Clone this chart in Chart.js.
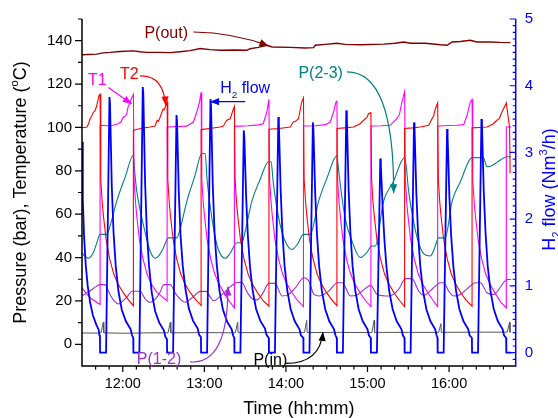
<!DOCTYPE html>
<html>
<head>
<meta charset="utf-8">
<title>Pressure, temperature and H2 flow</title>
<script src="https://cdn.jsdelivr.net/npm/chart.js@4.4.1/dist/chart.umd.min.js"></script>
<style>
  html, body { margin: 0; padding: 0; background: #fff; }
</style>
</head>
<body>
<canvas id="myChart" width="558" height="418"></canvas>
<script>
// time axis runs in minutes since midnight
const timeMin = 690;
const timeMax = 1009;
const hourTicks = [720, 780, 840, 900, 960];
const leftTicks = [0, 20, 40, 60, 80, 100, 120, 140];
const rightTicks = [0, 1, 2, 3, 4, 5];

// [minute, bar]
const pOut = [[690,133.5],[700.8,133.8],[705.5,134.4],[710.6,134.6],[718,135],[727.8,135.3],[732.7,134.9],
  [737.6,134.6],[747.4,134.6],[754.8,134.5],[762.1,134.9],[769.5,135.4],[776.9,136.4],[784.2,135.9],
  [791.6,135.6],[802.6,135.7],[811.3,135.6],[813.7,136.3],[819.6,136.9],[826,137.9],[829.9,137.1],
  [843.1,136.9],[854.2,136.6],[860.3,136.8],[861.5,137.9],[868.9,138.3],[877.5,138.8],[883.6,138.3],
  [894.7,138.1],[911.8,138.4],[920.4,138.8],[926.5,139.4],[931.5,138.8],[942.5,138.8],[953.6,138.1],
  [958.5,137.9],[962.2,139.4],[968.3,139.6],[975.6,140.2],[980.5,139.4],[990.4,139.4],[997.7,139.2],
  [1005.1,139.1]];

const pIn = [[690,5.2],[703.9,5.2],[705.7,10.2],[706,5.3],[720,5.1],[740,5.3],[753.3,5.3],[755,10.2],
  [755.3,5.3],[780,5.4],[802.8,5.3],[804.5,10.2],[804.8,5.4],[830,5.4],[853.6,5.4],[855.3,11],[855.6,5.4],
  [880,5.5],[903.2,5.4],[904.9,11],[905.2,5.5],[930,5.5],[952.3,5.5],[954,9.5],[954.3,5.5],[980,5.6],
  [1002.8,5.6],[1004.5,10.2],[1004.8,5.6],[1005.6,5.6]];

const p12 = [[690,22.4],[694.4,24],[698.8,26],[703.5,27.5],[706.7,27.5],[710.6,23],[713.6,20],[717,18.6],
  [720.9,20.5],[723.9,22.5],[726.8,24.5],[732.7,24.5],[736.4,21],[740.1,19.4],[744.5,21.3],[747.4,24],
  [750.1,27.5],[754.8,27.5],[759.2,23],[766,19.4],[771,21.5],[777.1,24.4],[781.3,24.4],[784.2,22],
  [786.7,20.1],[793.1,23],[799,26.5],[803.9,28.5],[807.6,28.5],[811.5,24],[815.2,21],[818.6,20.5],
  [822.5,23],[827.5,28.1],[831.9,28.1],[837.2,22.3],[841.7,22.8],[847,26.1],[853.2,30.7],[856.9,29.1],
  [860.6,23],[864.3,22.3],[871.6,24.6],[877.7,28.4],[881.4,28.4],[887.5,22.3],[891.7,22.6],[896.1,24.6],
  [901.1,26.9],[902.2,27.2],[907.2,23],[915.8,22.3],[922.9,25.3],[927.8,30.3],[932.7,30.3],[937.6,24.6],
  [941.3,22.6],[948.6,26.1],[953.6,28.4],[956,28.4],[959.7,24.6],[963.3,22.3],[968.3,23],[975.6,26.9],
  [979.3,28.4],[983,28.4],[987.9,23.8],[992.8,23],[1000.1,28.4],[1002.6,29.9],[1005.6,29.9]];

const p23 = [[690,42],[694.6,39.7],[698.1,42],[701,47],[703.3,50.7],[708.2,50.7],[710.6,54.5],[715.5,65.9],
  [721.7,77],[727.8,87.2],[728.7,80],[730.3,70.5],[732.7,62],[735.1,55.2],[737.6,48.5],[740.1,43],
  [743.7,39.7],[746.7,41],[749.9,44.5],[753.5,49.1],[759.7,49.1],[762.1,53],[767.1,65.9],[773.2,78],
  [778.1,88],[780.6,88],[782,76],[784.2,64],[787.2,52],[790.3,43.7],[795.3,39.7],[799,42],[803.9,46.8],
  [807.6,46.8],[810,52],[814.9,65.9],[821,76],[827.2,84.2],[829.1,84.2],[830.6,75],[832.8,65],[835.8,55],
  [839.4,47.5],[844.4,43.7],[848.3,46],[852.9,50.7],[857.9,50.7],[864,65.9],[870.4,77],[877.5,87],
  [878.8,80],[880.7,70],[883.6,58],[888.6,47.6],[894.7,40],[899.1,42],[903.3,45.3],[905.7,45.3],
  [911.8,65.9],[919,75],[927.3,86.1],[928.5,82],[930,72],[932.9,60],[936.6,49],[941.3,41.8],[946.2,40.7],
  [949.1,44],[952.3,49.1],[957.2,49.1],[962.2,65.9],[968.3,75],[976.9,86.1],[985.2,86],[987.9,81.9],
  [991.8,82.5],[997.7,85],[1002.6,86.5],[1005.6,86.5]];

// [minute, deg C]
const tempT1 = [[690,26.2],[693,23.5],[697,21],[701,19.3],[703.3,18.4],
  [703.3,101],[708,100.8],[712.8,101],[716.5,101.7],[718.5,102.5],[720.4,104.8],[722,105.3],[722.9,106.3],
  [724.1,110],[725,110.5],[726.1,113],[727.8,115.2],
  [728.3,76],[729.3,66],[730.3,59],[732.3,48],[734.8,39.5],[737.8,32.5],[740.8,28],[744.8,24.2],[748.8,22],[752.6,20],
  [752.6,100.2],[760,100.4],[767,100.6],[771.9,102.5],[774.4,107],[776.4,111.7],[777.6,116.2],
  [778.1,76],[779.1,66],[780.1,59],[782.1,48],[784.6,39.5],[787.6,32.5],[790.6,28],[794.6,23.5],[798.6,19.6],[802.1,16.8],
  [802.1,100.5],[812,100.8],[820,101.2],[823.3,101.7],[825.9,107],[827.5,112.9],
  [828,76],[829,66],[830,59],[832,48],[834.5,39.5],[837.5,32.5],[840.5,28],[844.5,23.8],[848.5,20.2],[852.9,17.4],
  [852.9,100.7],[862,100.8],[869,101.3],[872.6,102.5],[875,107],[876.8,111.7],[877.5,112.1],
  [878,76],[879,66],[880,59],[882,48],[884.5,39.5],[887.5,32.5],[890.5,28],[894.5,23.8],[898.5,20.2],[902.5,17.4],
  [902.5,100.7],[910,100.8],[916.7,101],[921.6,104],[923.5,106],[925.3,111.7],[927.3,116.6],
  [927.8,76],[928.8,66],[929.8,59],[931.8,48],[934.3,39.5],[937.3,32.5],[940.3,28],[944.3,23.8],[948.3,20.2],[951.6,17.4],
  [951.6,100.7],[960,100.9],[966,101],[970.7,101.3],[973.2,105.5],[975.6,111.7],[976.9,112.9],
  [977.4,76],[978.4,66],[979.4,59],[981.4,48],[983.9,39.5],[986.9,32.5],[989.9,28],[993.9,23.5],[997.9,19.6],[1002.1,16.8],
  [1002.1,100.2],[1005.6,100.2]];

const tempT2 = [[690,99.9],[692,100],[693.7,100.2],[695,102],[695.9,104],[697,105],[698.3,107],[699.5,107.5],
  [700.8,110],[702.5,114.7],[703.3,115.3],
  [703.8,76],[704.8,66],[705.8,59],[707.8,48],[710.3,39.5],[713.3,32.5],[716.3,28],[720.3,23.8],[724.3,20.4],[727.8,17.8],
  [727.8,98.7],[734,99.6],[740.1,100.2],[743.8,100.7],[745.3,103.3],[746.3,102.8],[747.5,104.8],[749.7,108.6],[750.5,108.2],[752.6,111.7],
  [753.1,76],[754.1,66],[755.1,59],[757.1,48],[759.6,39.5],[762.6,32.5],[765.6,28],[769.6,23.8],[773.6,20.6],[777.6,18],
  [777.6,99],[785,99.6],[791.6,100.2],[794,100.6],[795,101.8],[796.5,103.3],[799,104],[801.4,108.6],[802.1,109.7],
  [802.6,76],[803.6,66],[804.6,59],[806.6,48],[809.1,39.5],[812.1,32.5],[815.1,28],[819.1,23.8],[823.1,20.3],[827.5,17.6],
  [827.5,99.2],[835,99.5],[843.1,100.2],[845.5,102.5],[847,102.8],[849.2,104],[851.6,111.7],[852.9,113.6],
  [853.4,76],[854.4,66],[855.4,59],[857.4,48],[859.9,39.5],[862.9,32.5],[865.9,28],[869.9,23.8],[873.9,20.4],[877.5,17.8],
  [877.5,99.5],[883,99.8],[889.7,100.2],[894.6,101.7],[898.3,104],[899.5,104.5],[900.7,106.3],[902.5,106.8],
  [903,76],[904,66],[905,59],[907,48],[909.5,39.5],[912.5,32.5],[915.5,28],[919.5,23.8],[923.5,20.2],[927.3,17.4],
  [927.3,99.5],[933,99.8],[938.8,100.2],[945,101],[948.7,105.5],[949.9,108.6],[951.6,111.3],
  [952.1,76],[953.1,66],[954.1,59],[956.1,48],[958.6,39.5],[961.6,32.5],[964.6,28],[968.6,23.8],[972.6,20.3],[976.9,17.6],
  [976.9,99.8],[982,100],[987.9,100.2],[992,101.5],[995.2,103.3],[997,104.2],[998.8,107],[1002.1,111.3],
  [1004.5,100],[1004.9,79]];

// [minute, Nm3/h]
const h2Flow = [[690,3.16],[690.6,2.3],[691.5,1.75],[692.8,1.3],[694.2,1],[696,0.75],[698,0.56],[700.5,0.42],[702.3,0.34],[702.8,0.26],[703.2,0.24],
  [703.3,0],[707.7,0],[710.2,3.83],[710.6,3.73],[711.9,2.5],[713.2,1.8],[714.8,1.3],[716.8,0.92],[719.3,0.64],[722.3,0.47],[725.8,0.35],[726.8,0.26],[727.7,0.22],
  [727.8,0],[732.2,0],[734.7,3.98],[735.1,3.88],[736.4,2.55],[737.7,1.82],[739.3,1.3],[741.3,0.9],[743.8,0.62],[746.8,0.45],[750.3,0.33],[751.3,0.24],[752.5,0.2],
  [752.6,0],[757,0],[759.5,3.56],[759.9,3.46],[761.2,2.4],[762.5,1.75],[764.1,1.3],[766.1,0.95],[768.6,0.66],[771.6,0.48],[775.1,0.36],[776.1,0.27],[777.5,0.23],
  [777.6,0],[782,0],[784.5,3.8],[784.9,3.7],[786.2,2.5],[787.5,1.8],[789.1,1.32],[791.1,0.93],[793.6,0.65],[796.6,0.47],[800.1,0.35],[801.1,0.26],[802,0.22],
  [802.1,0],[806.5,0],[809,3.33],[809.4,3.23],[810.7,2.35],[812,1.75],[813.6,1.28],[815.6,0.92],[818.1,0.65],[821.1,0.48],[824.6,0.36],[825.6,0.27],[827.4,0.22],
  [827.5,0],[831.9,0],[834.4,3.53],[834.8,3.43],[836.1,2.45],[837.4,1.8],[839,1.3],[841,0.93],[843.5,0.65],[846.5,0.47],[850,0.35],[851,0.26],[852.8,0.22],
  [852.9,0],[857.3,0],[859.8,3.45],[860.2,3.35],[861.5,2.4],[862.8,1.78],[864.4,1.3],[866.4,0.93],[868.9,0.65],[871.9,0.47],[875.4,0.35],[876.4,0.26],[877.4,0.22],
  [877.5,0],[881.9,0],[884.4,3.63],[884.8,3.53],[886.1,2.45],[887.4,1.8],[889,1.3],[891,0.93],[893.5,0.65],[896.5,0.47],[900,0.35],[901,0.26],[902.4,0.22],
  [902.5,0],[906.9,0],[909.4,2.91],[909.8,2.81],[911.1,2.2],[912.4,1.7],[914,1.27],[916,0.92],[918.5,0.65],[921.5,0.47],[925,0.35],[926,0.26],[927.2,0.22],
  [927.3,0],[931.7,0],[934.2,3.45],[934.6,3.35],[935.9,2.4],[937.2,1.78],[938.8,1.3],[940.8,0.93],[943.3,0.65],[946.3,0.47],[949.8,0.35],[950.8,0.26],[951.5,0.22],
  [951.6,0],[956,0],[958.5,3.35],[958.9,3.25],[960.2,2.35],[961.5,1.76],[963.1,1.3],[965.1,0.93],[967.6,0.65],[970.6,0.47],[974.1,0.35],[975.1,0.26],[976.8,0.22],
  [976.9,0],[981.3,0],[983.8,3.5],[984.2,3.4],[985.5,2.42],[986.8,1.8],[988.4,1.3],[990.4,0.93],[992.9,0.65],[995.9,0.47],[999.4,0.35],[1000.4,0.26],[1002,0.22],
  [1002.1,0],[1005.6,0]];

const FONT = "'Liberation Sans', Arial, Helvetica, sans-serif";
Chart.defaults.font.family = FONT;

const pts = (arr) => arr.map(([x, y]) => ({ x, y }));
const hhmm = (m) => Math.floor(m / 60) + ':' + String(Math.round(m % 60)).padStart(2, '0');

// labels with arrows, placed in data units: [minute, left-axis value]
const notes = [
  { parts: [['P(out)']], color: '#800000', at: [735.9, 143.7], from: [771.9, 144], ctrl: [801.4, 143.7], tip: [827.2, 137.6] },
  { parts: [['T1']], color: '#ff00ff', at: [694.4, 122.1], from: [709.4, 118.4], tip: [726.6, 110.8] },
  { parts: [['T2']], color: '#ff0000', at: [718.0, 124.9], from: [732.7, 123.8], ctrl: [749.8, 124.2], tip: [751.6, 110.1] },
  { parts: [['H'], ['2', 'sub'], [' flow']], color: '#0000ff', at: [791.6, 118.4], from: [810.0, 111.9], tip: [784.2, 111.9] },
  { parts: [['P(2-3)']], color: '#008080', at: [849.2, 125.4], from: [884.9, 125.6], ctrl: [919.7, 125.6], tip: [919.2, 69.7] },
  { parts: [['P(1-2)']], color: '#9b30d0', at: [730.3, -6.4], from: [769.5, -8.1], ctrl: [797.5, -9.5], tip: [797.3, 26.6] },
  { parts: [['P(in)']], color: '#000000', lineColor: '#000000', at: [816.1, -6.9], from: [839.9, -8.8], ctrl: [865.2, -8.8], tip: [867.2, 5.7] }
];

function richText(ctx, parts, size, x, y, center) {
  const sizeOf = (k) => (k ? size * 0.62 : size);
  const widths = parts.map(([t, k]) => {
    ctx.font = sizeOf(k) + 'px ' + FONT;
    return ctx.measureText(t).width;
  });
  let cx = center ? x - widths.reduce((s, w) => s + w, 0) / 2 : x;
  parts.forEach(([t, k], i) => {
    ctx.font = sizeOf(k) + 'px ' + FONT;
    const dy = k === 'sub' ? size * 0.28 : k === 'sup' ? -size * 0.42 : 0;
    ctx.fillText(t, cx, y + dy);
    cx += widths[i];
  });
}

function arrow(ctx, p0, c, p1, color) {
  ctx.strokeStyle = color;
  ctx.fillStyle = color;
  ctx.lineWidth = 1.2;
  ctx.beginPath();
  ctx.moveTo(p0[0], p0[1]);
  ctx.quadraticCurveTo(c[0], c[1], p1[0], p1[1]);
  ctx.stroke();
  const ang = Math.atan2(p1[1] - c[1], p1[0] - c[0]);
  const L = 9, W = 3.6;
  const bx = p1[0] - L * Math.cos(ang), by = p1[1] - L * Math.sin(ang);
  ctx.beginPath();
  ctx.moveTo(p1[0], p1[1]);
  ctx.lineTo(bx + W * Math.sin(ang), by - W * Math.cos(ang));
  ctx.lineTo(bx - W * Math.sin(ang), by + W * Math.cos(ang));
  ctx.closePath();
  ctx.fill();
}

// axis lines, major/minor ticks, axis titles and labels
const decor = {
  id: 'decor',
  afterDraw(chart) {
    const { ctx, chartArea: a } = chart;
    const { x, y, y2 } = chart.scales;
    ctx.save();

    ctx.lineWidth = 1.5;
    ctx.strokeStyle = '#000';
    ctx.beginPath();
    ctx.moveTo(a.left, a.top);
    ctx.lineTo(a.left, a.bottom);
    ctx.lineTo(a.right, a.bottom);
    ctx.stroke();
    ctx.strokeStyle = '#0000ff';
    ctx.beginPath();
    ctx.moveTo(a.right, a.top);
    ctx.lineTo(a.right, a.bottom + 0.75);
    ctx.stroke();

    ctx.lineWidth = 1.2;
    ctx.strokeStyle = '#000';
    ctx.beginPath();
    for (let v = 0; v <= 150; v += 10) {
      const py = y.getPixelForValue(v);
      const len = v % 20 === 0 ? 7 : 4;
      ctx.moveTo(a.left - len, py);
      ctx.lineTo(a.left, py);
    }
    for (let m = 700; m <= 1000; m += 10) {
      const px = x.getPixelForValue(m);
      const len = m % 60 === 0 ? 6 : 3.5;
      ctx.moveTo(px, a.bottom);
      ctx.lineTo(px, a.bottom + len);
    }
    ctx.stroke();

    ctx.strokeStyle = '#0000ff';
    ctx.beginPath();
    for (let i = -1; i <= 50; i++) {
      const py = y2.getPixelForValue(i / 10);
      const len = i % 10 === 0 ? 6 : 3;
      ctx.moveTo(a.right - len, py);
      ctx.lineTo(a.right, py);
    }
    ctx.stroke();

    // axis titles
    ctx.textAlign = 'left';
    ctx.textBaseline = 'alphabetic';
    ctx.fillStyle = '#000';
    richText(ctx, [['Time (hh:mm)']], 18, (a.left + a.right) / 2, 414, true);

    ctx.save();
    ctx.translate(26, (a.top + a.bottom) / 2);
    ctx.rotate(-Math.PI / 2);
    richText(ctx, [['Pressure (bar), Temperature ('], ['o', 'sup'], ['C)']], 18, 0, 0, true);
    ctx.restore();

    ctx.save();
    ctx.fillStyle = '#0000ff';
    ctx.translate(555, (a.top + a.bottom) / 2 - 3);
    ctx.rotate(-Math.PI / 2);
    richText(ctx, [['H'], ['2', 'sub'], [' flow (Nm'], ['3', 'sup'], ['/h)']], 18, 0, 0, true);
    ctx.restore();

    // series labels
    const P = ([t, v]) => [x.getPixelForValue(t), y.getPixelForValue(v)];
    notes.forEach((n) => {
      ctx.fillStyle = n.color;
      const [tx, ty] = P(n.at);
      richText(ctx, n.parts, 16, tx, ty + 5.8, false);
      const p0 = P(n.from), p1 = P(n.tip);
      const c = n.ctrl ? P(n.ctrl) : [(p0[0] + p1[0]) / 2, (p0[1] + p1[1]) / 2];
      arrow(ctx, p0, c, p1, n.lineColor || n.color);
    });

    ctx.restore();
  }
};

const line = (label, data, color, width, extra) => Object.assign({
  label, data: pts(data), borderColor: color, borderWidth: width,
  pointRadius: 0, fill: false, tension: 0
}, extra || {});

new Chart(document.getElementById('myChart'), {
  type: 'line',
  data: {
    datasets: [
      line('H2 flow', h2Flow, '#0000ff', 1.8, { yAxisID: 'y2' }),
      line('T2', tempT2, '#ff0000', 1.1),
      line('T1', tempT1, '#ff00ff', 1.1),
      line('P(2-3)', p23, '#008080', 1.1, { cubicInterpolationMode: 'monotone' }),
      line('P(1-2)', p12, '#9b30d0', 1.1, { cubicInterpolationMode: 'monotone' }),
      line('P(in)', pIn, '#555555', 1),
      line('P(out)', pOut, '#800000', 1.4)
    ]
  },
  plugins: [decor],
  options: {
    responsive: false,
    animation: false,
    layout: { padding: { top: 16, left: 0, right: 0, bottom: 0 } },
    plugins: { legend: { display: false }, tooltip: { enabled: false } },
    scales: {
      x: {
        type: 'linear', min: timeMin, max: timeMax,
        grid: { display: false, drawTicks: false }, border: { display: false },
        afterBuildTicks: (s) => { s.ticks = hourTicks.map((v) => ({ value: v })); },
        afterFit: (s) => { s.height = 52; },
        ticks: { callback: (v) => hhmm(v), color: '#000', font: { size: 14.5 }, padding: 9, maxRotation: 0, autoSkip: false }
      },
      y: {
        position: 'left', min: -10, max: 150,
        grid: { display: false, drawTicks: false }, border: { display: false },
        afterBuildTicks: (s) => { s.ticks = leftTicks.map((v) => ({ value: v })); },
        afterFit: (s) => { s.width = 82; },
        ticks: { color: '#000', font: { size: 15 }, padding: 10 }
      },
      y2: {
        position: 'right', min: -0.2, max: 5,
        grid: { display: false, drawTicks: false }, border: { display: false },
        afterBuildTicks: (s) => { s.ticks = rightTicks.map((v) => ({ value: v })); },
        afterFit: (s) => { s.width = 42.3; },
        ticks: { color: '#0000ff', font: { size: 15 }, padding: 9 }
      }
    }
  }
});
</script>
</body>
</html>
